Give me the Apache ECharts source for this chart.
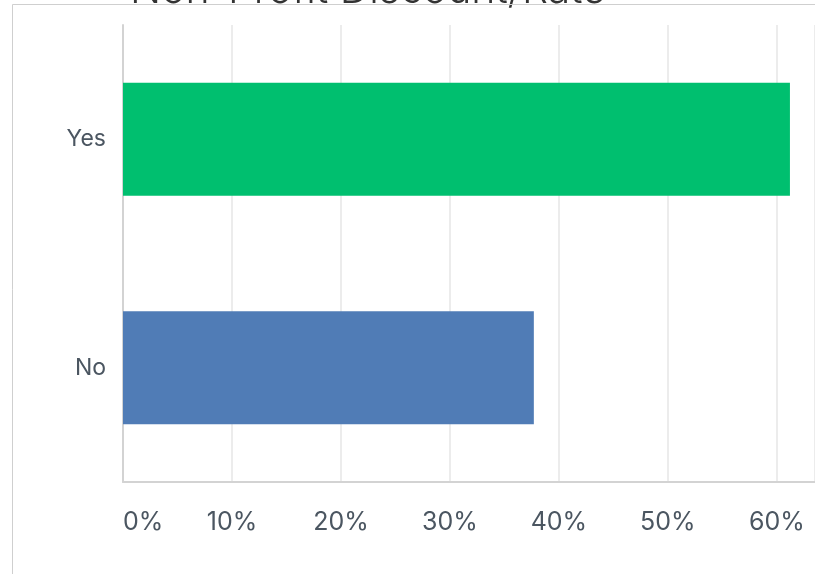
<!DOCTYPE html>
<html>
<head>
<meta charset="utf-8">
<script src="https://cdn.jsdelivr.net/npm/echarts@6/dist/echarts.min.js"></script>
<style>
  html, body { margin: 0; padding: 0; background: #ffffff; }
  #chart { width: 815px; height: 574px; }
</style>
</head>
<body>
<div id="chart"></div>
<script>
// Survey answers and their share of responses (percent)
const categories = ['Yes', 'No'];
const shares = [61.2, 37.7];
const barColors = ['#00bf6f', '#507cb6'];
const titleText = 'Non-Profit Discount/Rate';
const axisStep = 10;
// the value axis runs past the right edge of the panel
const axisMax = 63.5;

const labelColor = '#4b5661';
const fontFamily = 'Inter, "Open Sans", sans-serif';

const chart = echarts.init(document.getElementById('chart'), null, { renderer: 'canvas' });

chart.setOption({
  animation: false,
  backgroundColor: '#ffffff',
  grid: {
    left: 123,
    top: 25,
    bottom: 92,
    right: 0,
    containLabel: false
  },
  graphic: [
    {
      type: 'text',
      z: 0,
      x: 130,
      y: 11,
      style: {
        text: titleText,
        fontFamily: fontFamily,
        fontWeight: 300,
        fontSize: 41,
        fill: '#333333',
        align: 'left',
        verticalAlign: 'bottom'
      }
    },
    // panel frame
    {
      type: 'polyline',
      z: 1,
      shape: { points: [[12.5, 574], [12.5, 4.5], [815, 4.5]] },
      style: { stroke: '#cfcfcf', lineWidth: 1, fill: null }
    }
  ],
  xAxis: {
    type: 'value',
    min: 0,
    max: axisMax,
    interval: axisStep,
    axisLine: { show: true, lineStyle: { color: '#d3d3d3', width: 2 } },
    axisTick: { show: false },
    splitLine: { show: true, lineStyle: { color: '#ececec', width: 2 } },
    axisLabel: {
      formatter: v => (v % axisStep === 0 ? v + '%' : ''),
      color: labelColor,
      fontFamily: fontFamily,
      fontSize: 25,
      margin: 28,
      showMaxLabel: false,
      alignMinLabel: 'left'
    }
  },
  yAxis: {
    type: 'category',
    data: categories,
    inverse: true,
    axisLine: { show: true, lineStyle: { color: '#d3d3d3', width: 2 } },
    axisTick: { show: false },
    splitLine: { show: false },
    axisLabel: {
      color: labelColor,
      fontFamily: fontFamily,
      fontSize: 23,
      margin: 17
    }
  },
  series: [
    {
      type: 'bar',
      barWidth: 113,
      data: shares.map((v, i) => ({ value: v, itemStyle: { color: barColors[i] } }))
    }
  ]
});
</script>
</body>
</html>
